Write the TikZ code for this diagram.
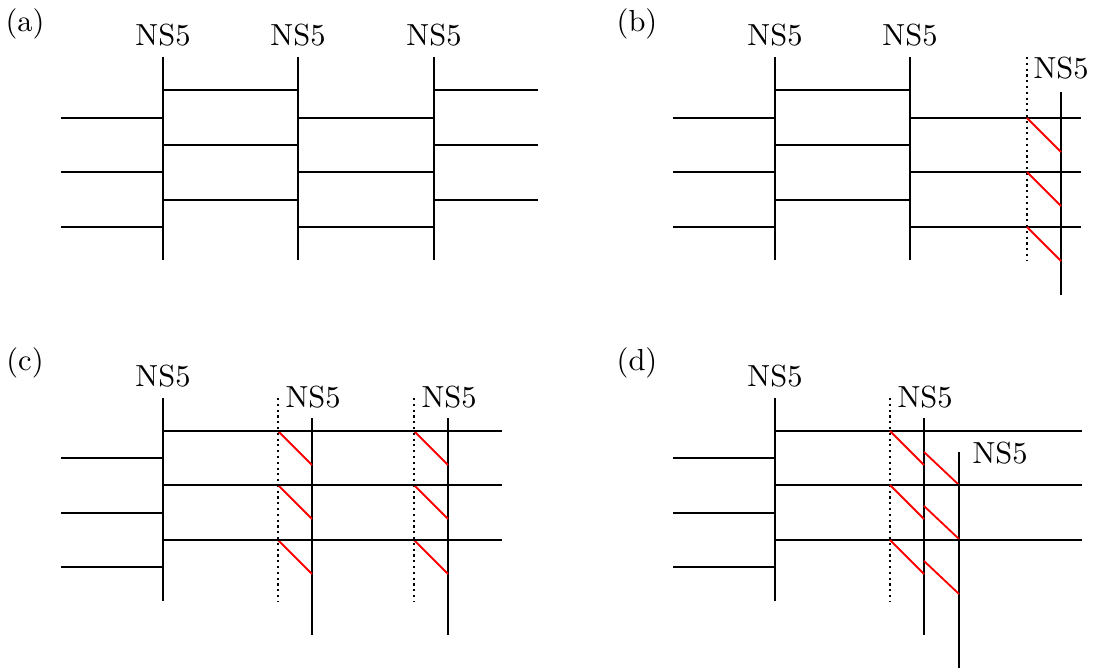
\documentclass[tikz,border=0pt]{standalone}
\usepackage{tikz}
\usetikzlibrary{positioning}
\begin{document}
\begin{tikzpicture}[
    x=0.328pt, y=-0.328pt,
    brane style/.style={line width=0.6pt},
    ghost style/.style={line width=0.7pt, dash pattern=on 0.7pt off 1.2pt},
    string style/.style={red, line width=0.6pt},
    tag style/.style={inner sep=0pt}
]
\useasboundingbox (0,0) rectangle (1115,671);

% (a)
\node[tag style] (a) at (25,24) {(a)};
\foreach \x/\n in {163/1,298/2,434/3} {
    \node[tag style] (a\n) at (\x,35) {NS5};
    \draw[brane style] (\x,57) -- (\x,260);
}
\foreach \y in {118,172,227} {
    \draw[brane style] (61,\y) -- (163,\y);
    \draw[brane style] (298,\y) -- (434,\y);
}
\foreach \y in {90,145,200} {
    \draw[brane style] (163,\y) -- (298,\y);
    \draw[brane style] (434,\y) -- (538,\y);
}

% (b)
\begin{scope}[shift={(612,0)}]
\node[tag style] (b) at (25,24) {(b)};
\foreach \x/\n in {163/1,298/2} {
    \node[tag style] (b\n) at (\x,35) {NS5};
    \draw[brane style] (\x,57) -- (\x,260);
}
\node[tag style, anchor=west] (b3) at (421,68) {NS5};
\draw[ghost style] (415,57) -- (415,260);
\draw[brane style] (449,92) -- (449,295);
\foreach \y in {118,172,227} {
    \draw[brane style] (61,\y) -- (163,\y);
    \draw[brane style] (298,\y) -- (469,\y);
    \draw[string style] (415,\y) -- (449,\y+34);
}
\foreach \y in {90,145,200}
    \draw[brane style] (163,\y) -- (298,\y);
\end{scope}

% (c)
\begin{scope}[shift={(0,341)}]
\node[tag style] (c) at (25,22) {(c)};
\node[tag style] (c1) at (163,35) {NS5};
\draw[brane style] (163,57) -- (163,260);
\foreach \x/\n in {278/2,414/3} {
    \node[tag style, anchor=west] (c\n) at (\x+7,56) {NS5};
    \draw[ghost style] (\x,57) -- (\x,260);
    \draw[brane style] (\x+34,77) -- (\x+34,294);
    \foreach \y in {90,144,199}
        \draw[string style] (\x,\y) -- (\x+34,\y+34);
}
\foreach \y in {117,172,226}
    \draw[brane style] (61,\y) -- (163,\y);
\foreach \y in {90,144,199}
    \draw[brane style] (163,\y) -- (502,\y);
\end{scope}

% (d)
\begin{scope}[shift={(612,341)}]
\node[tag style] (d) at (25,22) {(d)};
\node[tag style] (d1) at (163,35) {NS5};
\draw[brane style] (163,57) -- (163,260);
\node[tag style, anchor=west] (d2) at (285,56) {NS5};
\draw[ghost style] (278,57) -- (278,260);
\draw[brane style] (312,77) -- (312,294);
\node[tag style, anchor=west] (d3) at (360,112) {NS5};
\draw[brane style] (347,111) -- (347,327);
\foreach \y in {117,172,226}
    \draw[brane style] (61,\y) -- (163,\y);
\foreach \y in {90,144,199} {
    \draw[brane style] (163,\y) -- (470,\y);
    \draw[string style] (278,\y) -- (312,\y+34);
    \draw[string style] (312,\y+21) -- (347,\y+54);
}
\end{scope}
\end{tikzpicture}
\end{document}
